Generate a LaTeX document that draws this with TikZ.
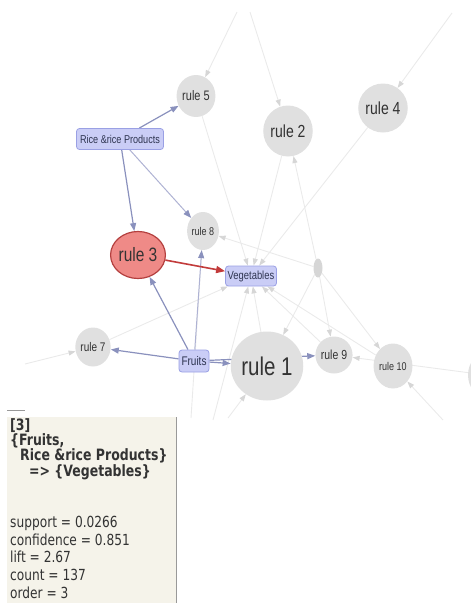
\documentclass[tikz,border=0pt]{standalone}
\usepackage{fontspec}
\setmainfont{Liberation Sans}
\newfontfamily\infofont{DejaVu Sans}
\usepackage{graphicx}
\usetikzlibrary{arrows.meta,shapes.geometric,backgrounds}
\definecolor{rulefill}{HTML}{E0E0E0}
\definecolor{ruletext}{HTML}{333333}
\definecolor{itemfill}{HTML}{CACDF6}
\definecolor{itemdraw}{HTML}{9AA0E4}
\definecolor{itemtext}{HTML}{2E3450}
\definecolor{hotfill}{HTML}{EF8A87}
\definecolor{hotdraw}{HTML}{B4403F}
\definecolor{hotedge}{HTML}{C23B3B}
\definecolor{edgeblue}{HTML}{8A91BD}
\definecolor{paleblue}{HTML}{AEB2D3}
\definecolor{edgegray}{HTML}{EAEAEA}
\definecolor{arrowgray}{HTML}{D6D6D6}
\definecolor{infofill}{HTML}{F5F3EA}
\definecolor{infoline}{HTML}{999999}
\definecolor{infotext}{HTML}{333333}
\newcommand{\tallt}[1]{\scalebox{1}[1.25]{#1}}
\tikzset{
  rulebub/.style={ellipse, fill=rulefill, inner sep=0pt, text=ruletext,
                  font=\fontsize{#1}{#1}\selectfont},
  itembox/.style={rectangle, rounded corners=3pt, draw=itemdraw, fill=itemfill,
                  line width=0.8pt, inner sep=0pt, text=itemtext,
                  font=\fontsize{#1}{#1}\selectfont},
  faint/.style={draw=edgegray, line width=0.9pt,
                -{Triangle[length=7pt,width=5pt,color=arrowgray]}},
  link/.style={draw=edgeblue, line width=1.2pt,
               -{Triangle[length=8pt,width=6pt]}},
  palelink/.style={draw=paleblue, line width=1pt,
                   -{Triangle[length=8pt,width=6pt,color=edgeblue]}},
  hot/.style={draw=hotedge, line width=1.6pt,
              -{Triangle[length=9pt,width=7pt]}},
  infohead/.style={anchor=base west, inner sep=0pt, text=infotext,
                   font=\infofont\bfseries\fontsize{12.5}{12.5}\selectfont},
  infobody/.style={anchor=base west, inner sep=0pt, text=infotext,
                   font=\infofont\fontsize{12.2}{12.2}\selectfont}
}

\begin{document}
\begin{tikzpicture}[x=1pt,y=-1pt]
  \useasboundingbox (0,0) rectangle (471,603);
  \clip (0,0) rectangle (471,603);

  % rules
  \node[rulebub=11, minimum width=32, minimum height=42] (r5) at (196,96) {\tallt{rule 5}};
  \node[rulebub=14, minimum width=39, minimum height=51] (r2) at (288,131) {\tallt{rule 2}};
  \node[rulebub=14, minimum width=37, minimum height=49] (r4) at (383,108) {\tallt{rule 4}};
  \node[rulebub=15.5, minimum width=44, minimum height=47, fill=hotfill, draw=hotdraw,
        line width=1.2pt] (r3) at (138,255) {\tallt{rule 3}};
  \node[rulebub=9, minimum width=29, minimum height=38] (r8) at (203,231) {\tallt{rule 8}};
  \node[rulebub=10, minimum width=30, minimum height=39] (r7) at (93,347) {\tallt{rule 7}};
  \node[rulebub=20.5, minimum width=56, minimum height=69] (r1) at (267,366) {\tallt{rule 1}};
  \node[rulebub=10.5, minimum width=29, minimum height=37] (r9) at (334,355) {\tallt{rule 9}};
  \node[rulebub=9, minimum width=33, minimum height=45] (r10) at (393,366) {\tallt{rule 10}};
  \node[rulebub=5, minimum width=9, minimum height=19, fill=arrowgray] (dot) at (318,268) {};
  \node[rulebub=9, minimum width=36, minimum height=44] (rnode) at (486,375) {};

  % items
  \node[itembox=9.1, minimum width=87, minimum height=21] (rice) at (120,139) {\tallt{Rice \&rice Products}};
  \node[itembox=9.4, minimum width=51, minimum height=20] (veg) at (251,276) {\tallt{Vegetables}};
  \node[itembox=10, minimum width=30, minimum height=22] (fruits) at (194,361) {\tallt{Fruits}};

  % loose ends
  \coordinate (top1) at (237,12);
  \coordinate (top2) at (250,12);
  \coordinate (top3) at (452,13);
  \coordinate (leftend) at (25,364);
  \coordinate (botA) at (191,418);
  \coordinate (botB) at (213,420);
  \coordinate (botC) at (228,418);
  \coordinate (botD) at (443,420);

  \begin{scope}[on background layer]
    \draw[faint] (top1) -- (r5);
    \draw[faint] (top2) -- (r2);
    \draw[faint] (top3) -- (r4);
    \draw[faint] (r5) -- (veg);
    \draw[faint] (r2) -- (veg);
    \draw[faint] (r4) -- (veg);
    \draw[faint] (dot) -- (r2);
    \draw[faint] (dot) -- (r8);
    \draw[faint] (dot) -- (r9);
    \draw[faint] (dot) -- (r1);
    \draw[faint] (dot) -- (r10);
    \draw[faint] (r9) -- (veg);
    \draw[faint] (r10) -- (veg);
    \draw[faint] (r7) -- (veg);
    \draw[faint] (r1) -- (veg);
    \draw[faint] (botB) -- (veg);
    \draw[faint] (botC) -- (r1);
    \draw[faint] (botD) -- (r10);
    \draw[faint] (leftend) -- (r7);
    \draw[faint] (rnode) -- (r9);
    \draw[draw=edgegray, line width=0.9pt] (botA) -- (r8);

    \draw[palelink] (rice) -- (r8);
    \draw[palelink] (fruits) -- (r8);
    \draw[link] (rice) -- (r5);
    \draw[link] (rice) -- (r3);
    \draw[link] (fruits) -- (r3);
    \draw[link] (fruits) -- (r7);
    \draw[link] (fruits) -- (r9);
    \draw[link] (fruits) -- (r1);
    \draw[hot] (r3) -- (veg);
  \end{scope}

  % info panel
  \fill[infofill] (7,417) rectangle (176,603);
  \draw[infoline, line width=1pt] (176,417) -- (176,603);
  \draw[infoline, line width=0.8pt] (7,410) -- (25,410);
  \foreach \n/\x/\y/\t in {1/10/430/{[3]}, 2/10/445.5/{\{Fruits,},
                           3/20/460.5/{Rice \&rice Products\}}, 4/29/476.5/{=> \{Vegetables\}}}
    \node[infohead] (head\n) at (\x,\y) {\tallt{\t}};
  \foreach \n/\y/\t in {1/527/{support = 0.0266}, 2/545/{confidence = 0.851},
                        3/562.5/{lift = 2.67}, 4/580.5/{count = 137}, 5/598/{order = 3}}
    \node[infobody] (stat\n) at (10,\y) {\tallt{\t}};
\end{tikzpicture}
\end{document}
